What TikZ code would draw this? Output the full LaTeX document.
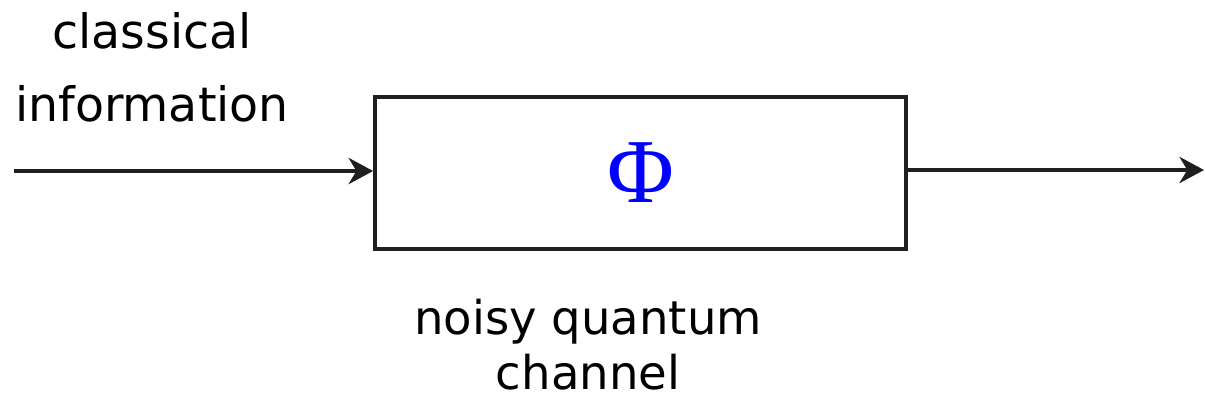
\documentclass[tikz,border=0pt]{standalone}
\usepackage{fontspec}
\setmainfont{DejaVu Sans}
\newfontfamily\phifont{Liberation Serif}
\usetikzlibrary{positioning, arrows.meta}

\begin{document}
\begin{tikzpicture}[
    x=0.02cm,
    y=-0.02cm,
    channelbox/.style={
        rectangle,
        draw=black!88,
        line width=2.2pt,
        inner sep=0pt,
        minimum width=10.62cm,
        minimum height=3.04cm
    },
    arrow/.style={
        -{Stealth[length=14pt, width=15pt, inset=4.5pt]},
        draw=black!88,
        line width=1.8pt
    },
    desc/.style={
        align=center,
        inner sep=0pt
    }
]

\useasboundingbox (0,0) rectangle (1205,403);

\node[channelbox] (channel) at (640.5,173) {\phifont\fontsize{52}{52}\selectfont\color{blue}Φ};

\node[desc, font=\fontsize{27}{41.4}\selectfont] (classical) at (152,67.5) {classical\\information};

\node[desc, font=\fontsize{26.5}{31.2}\selectfont] (noisy) at (588,344.8) {noisy quantum\\channel};

\coordinate (in) at (14,171);
\coordinate (out) at (1204,170);

\draw[arrow] (in) -- (in -| channel.west);
\draw[arrow] (out -| channel.east) -- (out);

\end{tikzpicture}
\end{document}
